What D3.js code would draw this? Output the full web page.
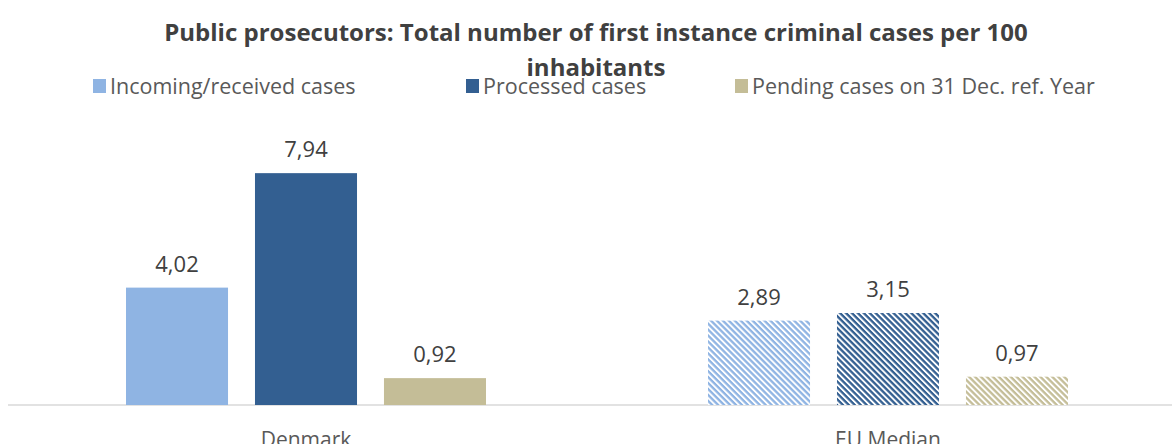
<!DOCTYPE html>
<html>
<head>
<meta charset="utf-8">
<script src="https://cdn.jsdelivr.net/npm/d3@7"></script>
<style>
  body { margin:0; background:#fff; }
  svg { display:block; font-family:"Open Sans", sans-serif; }
</style>
</head>
<body>
<div id="chart"></div>
<script>
const categories = ["Denmark", "EU Median"]
const seriesNames = ["Incoming/received cases", "Processed cases", "Pending cases on 31 Dec. ref. Year"]
const incoming = [4.02, 2.89]
const processed = [7.94, 3.15]
const pending = [0.92, 0.97]
const colors = ["#8fb4e3", "#335f91", "#c4bd97"]

const width = 1172, height = 444
const fmt = v => v.toFixed(2).replace(".", ",")

const svg = d3.select("#chart")
  .append("svg")
    .attr("width", width)
    .attr("height", height)

// hatch patterns for EU median
const defs = svg.append("defs")
colors.forEach((c, i) => {
  const p = defs.append("pattern")
    .attr("id", "hatch-" + i)
    .attr("patternUnits", "userSpaceOnUse")
    .attr("width", 4.2)
    .attr("height", 4.2)
    .attr("patternTransform", "rotate(45)")
  p.append("rect").attr("width", 4.2).attr("height", 4.2).attr("fill", "#fff")
  p.append("rect").attr("width", 4.2).attr("height", 2.3).attr("fill", c)
})

const x0 = d3.scaleBand().domain(categories).range([15, 1179])
const x1 = d3.scaleBand().domain(d3.range(3)).range([-180, 180]).paddingInner(0.209)
const y = d3.scaleLinear().domain([0, 10]).range([405, 113])

const rows = []
categories.forEach((c, ci) => {
  [incoming, processed, pending].forEach((s, si) => {
    rows.push({cat: c, ci: ci, si: si, v: s[ci]})
  })
})

// axis line
svg.append("line")
  .attr("x1", 8).attr("x2", width)
  .attr("y1", y(0)).attr("y2", y(0))
  .attr("stroke", "#d9d9d9")
  .attr("stroke-width", 1.5)

svg.selectAll("rect.bar")
  .data(rows)
  .enter()
  .append("rect")
    .attr("class", "bar")
    .attr("x", d => x0(d.cat) + x0.bandwidth() / 2 + x1(d.si))
    .attr("width", x1.bandwidth())
    .attr("y", d => y(d.v))
    .attr("height", d => y(0) - y(d.v))
    .attr("fill", d => d.ci == 0 ? colors[d.si] : "url(#hatch-" + d.si + ")")

svg.selectAll("text.val")
  .data(rows)
  .enter()
  .append("text")
    .attr("class", "val")
    .attr("x", d => x0(d.cat) + x0.bandwidth() / 2 + x1(d.si) + x1.bandwidth() / 2)
    .attr("y", d => y(d.v) - 16)
    .attr("text-anchor", "middle")
    .attr("fill", "#404040")
    .style("font-size", "22px")
    .text(d => fmt(d.v))

// category labels
svg.selectAll("text.cat")
  .data(categories)
  .enter()
  .append("text")
    .attr("class", "cat")
    .attr("x", d => x0(d) + x0.bandwidth() / 2)
    .attr("y", 447)
    .attr("text-anchor", "middle")
    .attr("fill", "#595959")
    .style("font-size", "21px")
    .text(d => d)

// legend
const legX = [93, 466, 735]
const leg = svg.selectAll("g.leg")
  .data(seriesNames)
  .enter()
  .append("g")
    .attr("class", "leg")
    .attr("transform", (d, i) => "translate(" + legX[i] + ",79)")
leg.append("rect")
  .attr("width", 13).attr("height", 14)
  .attr("fill", (d, i) => colors[i])
leg.append("text")
  .attr("x", 17)
  .attr("y", 15)
  .attr("fill", "#595959")
  .style("font-size", "21.5px")
  .text(d => d)

// title
const title = svg.append("text")
  .attr("text-anchor", "middle")
  .attr("fill", "#404040")
  .style("font-size", "24px")
  .style("font-weight", "bold")
title.append("tspan").attr("x", 596).attr("y", 41)
  .text("Public prosecutors: Total number of first instance criminal cases per 100")
title.append("tspan").attr("x", 596).attr("y", 76)
  .text("inhabitants")
</script>
</body>
</html>
